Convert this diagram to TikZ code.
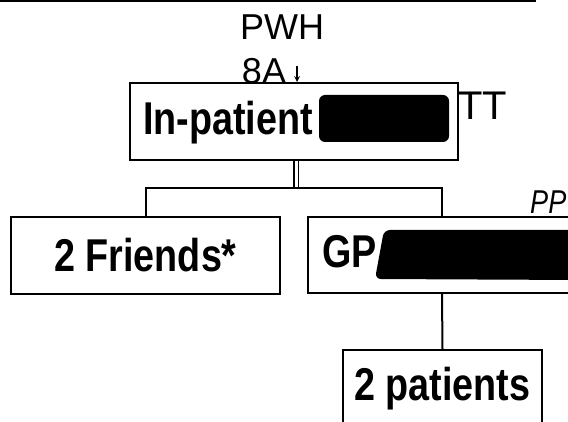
\documentclass[tikz,border=0pt]{standalone}
\usepackage{fontspec}
\setmainfont{Liberation Sans}
\newfontfamily\narrowfont[FakeStretch=0.82]{Liberation Sans}
\tikzset{
  unit/.style={draw,line width=2pt,inner sep=0pt},
  boxlabel/.style={font=\narrowfont\bfseries\fontsize{46}{50}\selectfont},
  link/.style={line width=2pt},
  note/.style={font=\fontsize{36}{40}\selectfont,inner sep=0pt},
  scrawl/.style={font=\fontsize{40}{44}\selectfont,inner sep=0pt,anchor=base west}
}
\begin{document}
\begin{tikzpicture}[x=1pt,y=-1pt]
\pgfmathsetmacro{\w}{268}
\pgfmathsetmacro{\h}{77}
\clip (0,0) rectangle (568,422);
%scan edge
\draw[line width=1.5pt] (0,1)--(536,1);
%boxes
\node[unit,minimum width=328,minimum height=\h,anchor=north west] (inpat) at (129,82) {};
\node[unit,boxlabel,minimum width=269,minimum height=\h] (friends) at (145.5,255.5) {2 Friends*};
\node[unit,minimum width=\w,minimum height=76] (gp) at (442,255) {};
\node[unit,boxlabel,minimum width=199,minimum height=\h] (patients) at (442.5,388.5) {2 patients};
\node[boxlabel,anchor=base west,inner sep=0pt] (inpatlabel) at (143,135) {In-patient};
\node[boxlabel,anchor=base west,inner sep=0pt] (gplabel) at (322,268) {GP};
%blacked out
\fill[rounded corners=6pt] (319,95) rectangle (449,142);
\fill[rounded corners=6pt] (384,230)--(580,230)--(580,280)--(375,279)--cycle;
%links
\coordinate (fork) at (296,188);
\draw[double,double distance=3pt,line width=1.3pt] (fork|-inpat.south)--(fork);
\draw[link] (friends.north)|-(fork)-|(gp.north);
\draw[link] (gp.south)--(patients.north);
%text
\node[note,anchor=base] (pwh) at (282,40) {PWH};
\node[note,anchor=base] (ward) at (264,84) {8A};
\coordinate (arrowtop) at (297,66);
\draw[-stealth,line width=1.6pt] (arrowtop)--(arrowtop|-inpat.north);
\node[scrawl] (tt) at (458,120) {TT};
\node[scrawl,font=\narrowfont\itshape\fontsize{33}{36}\selectfont] (pp) at (530,214) {PP};
\end{tikzpicture}
\end{document}
